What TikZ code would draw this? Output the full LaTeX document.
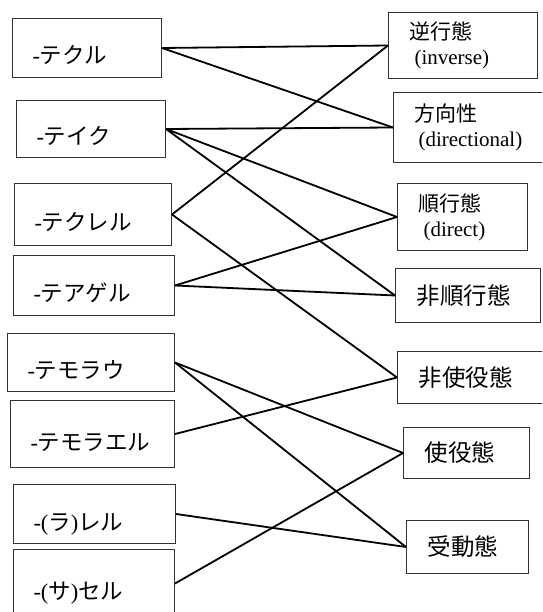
\documentclass[tikz,border=0pt]{standalone}
\usepackage{fontspec}
\setmainfont{Liberation Serif}
\newfontfamily\jp{Noto Sans CJK JP}
\begin{document}
\begin{tikzpicture}[x=1pt,y=-1pt,
	lbox/.style={draw=black!80, line width=1pt, anchor=north west, inner xsep=20pt, inner ysep=0pt, align=left, text height=32pt, text depth=0pt, font=\fontsize{22.5}{26}\selectfont},
	rbox/.style={draw=black!80, line width=1pt, anchor=north west, inner xsep=21pt, align=left, font=\fontsize{21}{25}\selectfont},
	link/.style={line width=1.8pt}]
	\clip (0,0) rectangle (542,612);
	\node[lbox, minimum width=149pt, minimum height=59pt, text width=109pt] (teku) at (12,18) {-{\jp テクル}};
	\node[lbox, minimum width=149pt, minimum height=57pt, text width=109pt] (teiku) at (16,100) {-{\jp テイク}};
	\node[lbox, minimum width=157pt, minimum height=62pt, text width=117pt] (tekureru) at (14,183) {-{\jp テクレル}};
	\node[lbox, minimum width=161pt, minimum height=60pt, text width=121pt] (teageru) at (13,255) {-{\jp テアゲル}};
	\node[lbox, minimum width=167pt, minimum height=58pt, text width=127pt] (temorau) at (7,333) {-{\jp テモラウ}};
	\node[lbox, minimum width=164pt, minimum height=67pt, text width=124pt] (temoraeru) at (10,400) {-{\jp テモラエル}};
	\node[lbox, minimum width=162pt, minimum height=59pt, text width=122pt] (rareru) at (13,484) {-({\jp ラ}){\jp レル}};
	\node[lbox, minimum width=161pt, minimum height=68pt, text width=121pt] (saseru) at (13,549) {-({\jp サ}){\jp セル}};
	\node[rbox, minimum width=149pt, minimum height=66pt, text width=107pt] (inv) at (388,12) {{\jp 逆行態}\\\hspace*{5pt}(inverse)};
	\node[rbox, minimum width=160pt, minimum height=70pt, text width=118pt] (dirl) at (393,92) {{\jp 方向性}\\\hspace*{4pt}(directional)};
	\node[rbox, minimum width=130pt, minimum height=67pt, text width=88pt] (dir) at (397,183) {{\jp 順行態}\\\hspace*{5pt}(direct)};
	\node[rbox, minimum width=145pt, minimum height=54pt, text width=103pt, font=\fontsize{23.5}{27}\selectfont] (nondir) at (395,268) {{\jp 非順行態}};
	\node[rbox, minimum width=150pt, minimum height=52pt, text width=108pt, font=\fontsize{23.5}{27}\selectfont] (noncaus) at (397,351) {{\jp 非使役態}};
	\node[rbox, minimum width=126pt, minimum height=51pt, text width=84pt, font=\fontsize{23.5}{27}\selectfont] (caus) at (403,427) {{\jp 使役態}};
	\node[rbox, minimum width=122pt, minimum height=53pt, text width=80pt, font=\fontsize{23.5}{27}\selectfont] (pass) at (406,520) {{\jp 受動態}};
	\draw[link] (teku.east) -- (inv.west);
	\draw[link] (teku.east) -- (dirl.west);
	\draw[link] (teiku.east) -- (dirl.west);
	\draw[link] (teiku.east) -- (dir.west);
	\draw[link] (teiku.east) -- (nondir.west);
	\draw[link] (tekureru.east) -- (inv.west);
	\draw[link] (tekureru.east) -- (noncaus.west);
	\draw[link] (teageru.east) -- (dir.west);
	\draw[link] (teageru.east) -- (nondir.west);
	\draw[link] (temorau.east) -- (caus.west);
	\draw[link] (temorau.east) -- (pass.west);
	\draw[link] (temoraeru.east) -- (noncaus.west);
	\draw[link] (rareru.east) -- (pass.west);
	\draw[link] (saseru.east) -- (caus.west);
\end{tikzpicture}
\end{document}
